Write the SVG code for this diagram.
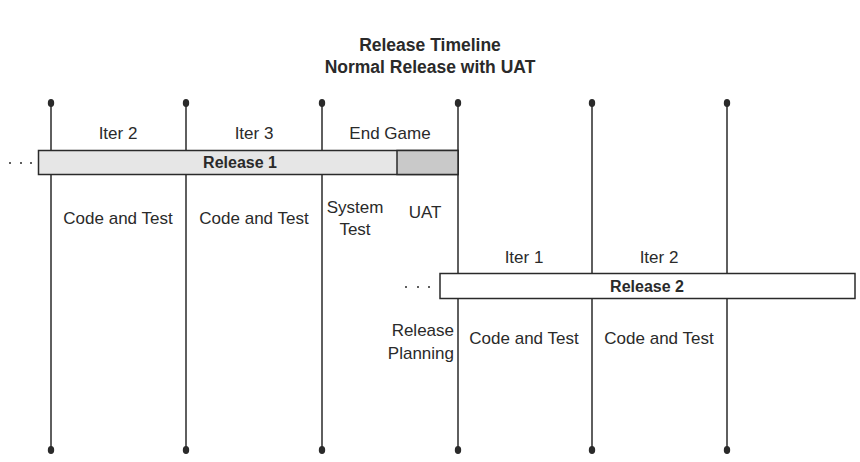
<svg xmlns="http://www.w3.org/2000/svg" width="860" height="462" viewBox="0 0 860 462">
<style>
.t{font-family:"Liberation Sans",Arial,sans-serif;font-size:17px;fill:#2a2a2a;text-anchor:middle}
.b{font-weight:bold;font-size:16px}
.ttl{font-family:"Liberation Sans",Arial,sans-serif;font-size:17.5px;font-weight:bold;fill:#2a2a2a;text-anchor:middle}
.ln{stroke:#2a2a2a;stroke-width:1.5;fill:none}
.dot{fill:#2a2a2a}
.bar{stroke:#2a2a2a;stroke-width:1.5}
</style>
<rect width="860" height="462" fill="#fff"/>
<g id="title">
<text class="ttl" x="430" y="51">Release Timeline</text>
<text class="ttl" x="430" y="73">Normal Release with UAT</text>
</g>
<g id="connectors">
<line class="ln" x1="51" y1="104" x2="51" y2="449"/>
<line class="ln" x1="186" y1="104" x2="186" y2="449"/>
<line class="ln" x1="322" y1="104" x2="322" y2="449"/>
<line class="ln" x1="458" y1="104" x2="458" y2="449"/>
<line class="ln" x1="592" y1="104" x2="592" y2="449"/>
<line class="ln" x1="727" y1="104" x2="727" y2="449"/>
<g class="dot">
<ellipse cx="51" cy="103" rx="3.2" ry="4"/><ellipse cx="186" cy="103" rx="3.2" ry="4"/><ellipse cx="322" cy="103" rx="3.2" ry="4"/><ellipse cx="458" cy="103" rx="3.2" ry="4"/><ellipse cx="592" cy="103" rx="3.2" ry="4"/><ellipse cx="727" cy="103" rx="3.2" ry="4"/>
<ellipse cx="51" cy="450" rx="3.2" ry="4"/><ellipse cx="186" cy="450" rx="3.2" ry="4"/><ellipse cx="322" cy="450" rx="3.2" ry="4"/><ellipse cx="458" cy="450" rx="3.2" ry="4"/><ellipse cx="592" cy="450" rx="3.2" ry="4"/><ellipse cx="727" cy="450" rx="3.2" ry="4"/>
</g>
</g>
<g id="release1">
<rect class="bar" x="38.5" y="150.5" width="419.5" height="24" fill="#e6e6e6"/>
<rect class="bar" x="397" y="150.5" width="61" height="24" fill="#c9c9c9"/>
<text class="t b" x="240" y="168">Release 1</text>
<g class="dot"><circle cx="10" cy="163" r="1"/><circle cx="21" cy="163" r="1"/><circle cx="31" cy="163" r="1"/></g>
</g>
<g id="release2">
<rect class="bar" x="440" y="273.5" width="415" height="25" fill="#fff"/>
<text class="t b" x="647" y="292">Release 2</text>
<g class="dot"><circle cx="406" cy="287" r="1"/><circle cx="418" cy="287" r="1"/><circle cx="429" cy="287" r="1"/></g>
</g>
<g id="labels1">
<text class="t" x="118" y="139">Iter 2</text>
<text class="t" x="254" y="139">Iter 3</text>
<text class="t" x="390" y="139">End Game</text>
<text class="t" x="118" y="224">Code and Test</text>
<text class="t" x="254" y="224">Code and Test</text>
<text class="t" x="355" y="213">System</text>
<text class="t" x="355" y="235">Test</text>
<text class="t" x="425" y="218">UAT</text>
</g>
<g id="labels2">
<text class="t" x="524" y="263">Iter 1</text>
<text class="t" x="659" y="263">Iter 2</text>
<text class="t" x="454" y="336" style="text-anchor:end">Release</text>
<text class="t" x="454" y="359" style="text-anchor:end">Planning</text>
<text class="t" x="524" y="344">Code and Test</text>
<text class="t" x="659" y="344">Code and Test</text>
</g>
</svg>
